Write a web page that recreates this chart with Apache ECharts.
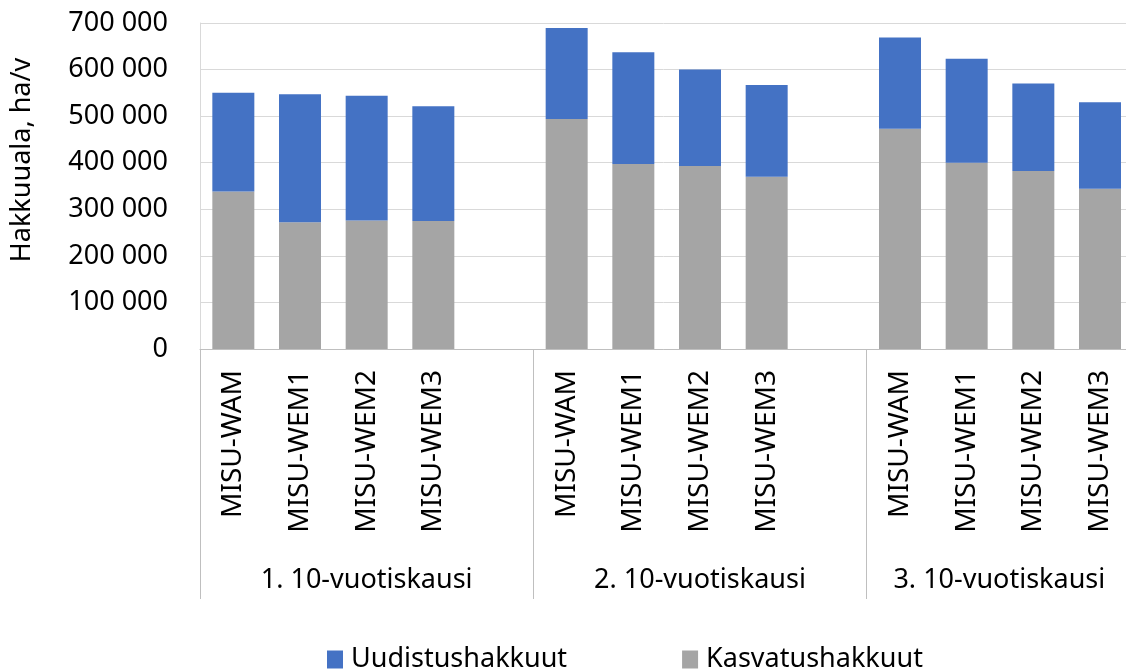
<!DOCTYPE html>
<html>
<head>
<meta charset="utf-8">
<script src="https://cdn.jsdelivr.net/npm/echarts@6/dist/echarts.min.js"></script>
<style>
  html, body { margin: 0; padding: 0; background: #fff; }
</style>
</head>
<body>
<div id="hakkuuChart" style="width: 1126px;height: 670px"></div>
<script>
  // skenaariot, viides paikka jokaisessa ryhmässä on tyhjä
  const categories = [
    'MISU-WAM', 'MISU-WEM1', 'MISU-WEM2', 'MISU-WEM3', '',
    'MISU-WAM', 'MISU-WEM1', 'MISU-WEM2', 'MISU-WEM3', '',
    'MISU-WAM', 'MISU-WEM1', 'MISU-WEM2', 'MISU-WEM3', ''
  ];
  const periods = ['1. 10-vuotiskausi', '2. 10-vuotiskausi', '3. 10-vuotiskausi'];

  const kasvatus = [
    338000, 272000, 276000, 275000, null,
    494000, 397000, 393000, 370000, null,
    473000, 400000, 382000, 344000, null
  ];
  const uudistus = [
    212000, 275000, 268000, 246000, null,
    195000, 240000, 207000, 197000, null,
    196000, 223000, 188000, 186000, null
  ];

  const FONT = '"Noto Sans", sans-serif';
  const TXT = '#000';

  let chart = echarts.init(document.getElementById('hakkuuChart'));

  let option = {
    animation: false,
    textStyle: { fontFamily: FONT },
    grid: {
      left: 200,
      width: 1000,   // kolmas ryhmä jatkuu kuvan reunan yli
      top: 23,
      bottom: 321,
      containLabel: false,
      outerBoundsMode: 'none'
    },
    legend: {
      data: ['Uudistushakkuut', 'Kasvatushakkuut'],
      left: 322,
      top: 641,
      itemWidth: 16,
      itemHeight: 18,
      itemGap: 115,
      icon: 'rect',
      textStyle: { fontSize: 27, color: TXT, fontFamily: FONT, padding: [0, 0, 0, 3] }
    },
    graphic: [{
      type: 'text',
      x: 22,
      y: 160,
      rotation: Math.PI / 2,
      style: {
        text: 'Hakkuuala, ha/v',
        fontSize: 27,
        fontFamily: FONT,
        fill: TXT,
        align: 'center',
        verticalAlign: 'middle'
      }
    }],
    xAxis: [
      {
        type: 'category',
        data: categories,
        position: 'bottom',
        axisLine: { lineStyle: { color: '#bfbfbf', width: 1 } },
        axisTick: { show: false },
        axisLabel: {
          interval: 0,
          rotate: 90,
          margin: 21,
          fontSize: 28,
          color: TXT,
          fontFamily: FONT
        }
      },
      {
        type: 'category',
        data: periods,
        position: 'bottom',
        axisLine: { show: false },
        axisTick: { show: true, length: 250, lineStyle: { color: '#bfbfbf', width: 1 } },
        axisLabel: {
          interval: 0,
          margin: 218,
          fontSize: 27,
          color: TXT,
          fontFamily: FONT,
          // viimeinen ryhmä on osittain kuvan ulkopuolella, keskitetään näkyvään osaan
          formatter: function (v, i) {
            return i === 2 ? '{c|' + v + '}' : v;
          },
          rich: {
            c: { fontSize: 27, fontFamily: FONT, color: TXT, padding: [0, 68, 0, 0] }
          }
        }
      }
    ],
    yAxis: {
      type: 'value',
      min: 0,
      max: 700000,
      interval: 100000,
      axisLine: { show: true, lineStyle: { color: '#d9d9d9' } },
      axisTick: { show: false },
      splitLine: { lineStyle: { color: '#d9d9d9', width: 1 } },
      axisLabel: {
        margin: 32,
        fontSize: 27,
        color: TXT,
        fontFamily: FONT,
        formatter: function (v) {
          return String(v).replace(/\B(?=(\d{3})+(?!\d))/g, ' ');
        }
      }
    },
    series: [
      {
        name: 'Kasvatushakkuut',
        type: 'bar',
        stack: 'hakkuu',
        barWidth: 42,
        data: kasvatus,
        itemStyle: { color: '#a5a5a5' }
      },
      {
        name: 'Uudistushakkuut',
        type: 'bar',
        stack: 'hakkuu',
        barWidth: 42,
        data: uudistus,
        itemStyle: { color: '#4472c4' }
      }
    ]
  };

  chart.setOption(option);
</script>
</body>
</html>
